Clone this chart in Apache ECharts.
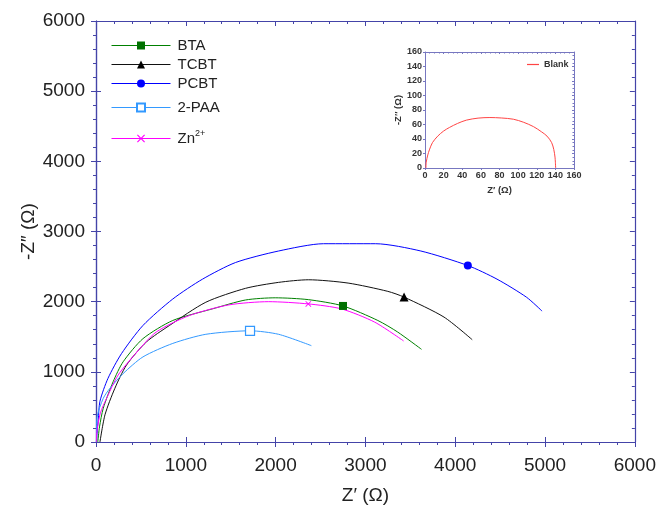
<!DOCTYPE html>
<html><head><meta charset="utf-8">
<script src="https://cdn.jsdelivr.net/npm/echarts@6/dist/echarts.min.js"></script>
<style>html,body{margin:0;padding:0;background:#fff}#c{width:659px;height:510px}</style>
</head><body><div id="c"></div>
<script>
// Series names
var names = ['BTA', 'TCBT', 'PCBT', '2-PAA', 'Zn2+'];
// [Z', -Z''] data
var bta = [[20,0],[39,215],[81,482],[191,860],[302,1143],[523,1473],[855,1732],[1296,1897],[1665,2024],[1996,2055],[2364,2029],[2750,1939],[3138,1732],[3359,1567],[3624,1321]];
var tcbt = [[44,0],[100,388],[210,765],[339,1095],[560,1425],[818,1661],[1223,1992],[1665,2190],[2033,2275],[2365,2312],[2807,2265],[3249,2147],[3430,2065],[3875,1780],[4189,1458]];
var pcbt = [[5,0],[10,115],[25,315],[44,581],[133,906],[284,1260],[523,1661],[855,2038],[1186,2321],[1554,2558],[2033,2722],[2533,2826],[3114,2826],[3617,2722],[4140,2515],[4465,2321],[4795,2062],[4967,1865]];
var paa = [[5,0],[10,340],[81,623],[155,765],[302,975],[523,1213],[855,1405],[1223,1535],[1715,1585],[2033,1535],[2398,1373]];
var zn = [[5,0],[10,152],[49,415],[118,623],[246,953],[444,1265],[670,1567],[1039,1802],[1480,1954],[1922,2000],[2364,1968],[2733,1897],[3102,1709],[3425,1440]];
// index of the single marked point in each series
var markIdx = [11, 12, 14, 8, 10];
// inset "Blank"
var blank = [[1,0],[1.3,8],[3,18],[4.7,25],[8,35],[13.7,44],[20,51],[26.4,56],[35,61.5],[44.4,66],[57,68.8],[69.7,69.6],[82,69],[94.9,67.3],[106,63],[116.6,57],[125,50],[131,44],[136,35],[138.3,25.5],[139.6,15],[140,8],[140.3,0]];

var axisCol = '#4444a8';
var insetCol = '#7777c0';
var txt = '#222';
var font = 'Liberation Sans';
function plain(v) { return String(v); }

function mainAxis(pos, opts) {
  return {
    type: 'value', gridIndex: 0, position: pos, min: 0, max: 6000, interval: 1000,
    axisLine: {show: true, onZero: false, lineStyle: {color: axisCol, width: 1.2}},
    axisTick: {show: true, inside: opts.inside, length: opts.len, lineStyle: {color: axisCol}},
    minorTick: {show: opts.minor, splitNumber: 5, length: 3, lineStyle: {color: axisCol}},
    axisLabel: {show: opts.label, color: txt, fontSize: 19, fontFamily: font, margin: pos === 'left' ? 11 : 14, formatter: plain},
    splitLine: {show: false}
  };
}
function insetAxis(pos, show) {
  return {
    type: 'value', gridIndex: 1, position: pos, min: 0, max: 160, interval: 20,
    axisLine: {show: true, onZero: false, lineStyle: {color: insetCol, width: 1}},
    axisTick: {show: true, inside: !show, length: 2, lineStyle: {color: insetCol}},
    minorTick: {show: !show, splitNumber: 4, length: 1.5, lineStyle: {color: insetCol}},
    axisLabel: {show: show, color: '#333', fontSize: 9, fontWeight: 'bold', fontFamily: font, margin: 3, formatter: plain},
    splitLine: {show: false}
  };
}

var xM = mainAxis('bottom', {inside: false, len: 5, minor: true, label: true});
xM.name = 'Z\u2032 (\u03A9)'; xM.nameLocation = 'middle'; xM.nameGap = 44; xM.nameMoveOverlap = false;
xM.nameTextStyle = {color: txt, fontSize: 19, fontFamily: font};
var yM = mainAxis('left', {inside: false, len: 5, minor: true, label: true});
yM.name = '-Z\u2033 (\u03A9)'; yM.nameLocation = 'middle'; yM.nameGap = 58; yM.nameMoveOverlap = false;
yM.nameTextStyle = {color: txt, fontSize: 19, fontFamily: font};
var xMi = mainAxis('bottom', {inside: true, len: 5, minor: false, label: false});
var yMi = mainAxis('left', {inside: true, len: 5, minor: false, label: false});
var xT = mainAxis('top', {inside: true, len: 5, minor: true, label: false});
var yR = mainAxis('right', {inside: true, len: 5, minor: true, label: false});

var xI = insetAxis('bottom', true);
xI.name = 'Z\u2032 (\u03A9)'; xI.nameLocation = 'middle'; xI.nameGap = 17;
xI.nameTextStyle = {color: '#333', fontSize: 9.5, fontWeight: 'bold', fontFamily: font};
var yI = insetAxis('left', true);
yI.name = '-Z\u2033 (\u03A9)'; yI.nameLocation = 'middle'; yI.nameGap = 20;
yI.nameTextStyle = {color: '#333', fontSize: 9.5, fontWeight: 'bold', fontFamily: font};
var xIT = insetAxis('top', false);
var yIR = insetAxis('right', false);

var colors = ['#008000', '#111111', '#0000ff', '#3399ff', '#ff00ff'];
var markColors = ['#007000', '#000000', '#0000ff', '#ffffff', '#ff00ff'];
var symbols = ['rect', 'triangle', 'circle', 'rect', 'path://M0,1L1,0L5,4L9,0L10,1L6,5L10,9L9,10L5,6L1,10L0,9L4,5Z'];
var symSizes = [8, 9, 8, 9, 6];
var datas = [bta, tcbt, pcbt, paa, zn];

var series = datas.map(function (d, i) {
  return {
    name: names[i], type: 'line', xAxisIndex: 0, yAxisIndex: 0,
    data: d, smooth: 0.25, showAllSymbol: true,
    symbol: symbols[i],
    symbolSize: function (v, p) { return p.dataIndex === markIdx[i] ? symSizes[i] : 0; },
    lineStyle: {color: colors[i], width: 1},
    itemStyle: i === 3 ? {color: '#fff', borderColor: colors[i], borderWidth: 1.2} : {color: markColors[i]},
    emphasis: {disabled: true}, z: 3
  };
});
series.push({
  name: 'Blank', type: 'line', xAxisIndex: 4, yAxisIndex: 4, data: blank, smooth: 0.3,
  symbol: 'none', lineStyle: {color: '#ff4444', width: 1}, itemStyle: {color: '#ff4444'}, z: 3
});

var legTops = [38, 57, 76, 100, 129];
var legends = names.map(function (n, i) {
  return {
    data: [n], left: 111, top: legTops[i], itemWidth: 59, itemHeight: 10, itemGap: 0, padding: 0,
    lineStyle: {width: 1},
    formatter: function (name) { return name === 'Zn2+' ? '{b|Zn}{s|2+}' : name; },
    textStyle: {color: txt, fontSize: 15, fontFamily: font, padding: [0, 0, 0, 2],
      rich: {b: {fontSize: 15, fontFamily: font, color: txt}, s: {fontSize: 9, fontFamily: font, color: txt, verticalAlign: 'top', padding: [0,0,10,0]}}}
  };
});
legends.push({
  data: [{name: 'Blank', icon: 'path://M0,0L10,0L10,1L0,1Z'}], left: 527, top: 60, itemWidth: 12, itemHeight: 6, padding: 0, itemGap: 0,
  textStyle: {color: '#333', fontSize: 9, fontWeight: 'bold', fontFamily: font}
});

var chart = echarts.init(document.getElementById('c'), null, {renderer: 'canvas'});
chart.setOption({
  animation: false,
  backgroundColor: '#fff',
  grid: [
    {left: 96, top: 21, right: 20, bottom: 66},
    {left: 425, top: 52, width: 149, height: 116}
  ],
  xAxis: [xM, xMi, xT, xIT, xI],
  yAxis: [yM, yMi, yR, yIR, yI],
  legend: legends,
  series: series
});
</script></body></html>
